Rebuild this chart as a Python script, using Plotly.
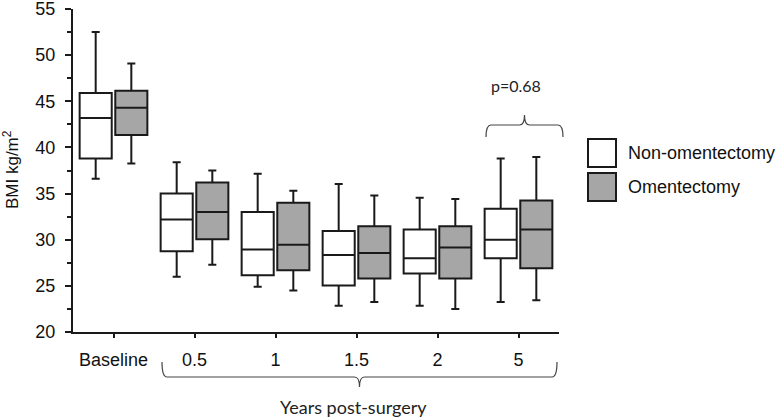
import plotly.graph_objects as go

categories = ["Baseline", "0.5", "1", "1.5", "2", "5"]

non_lower = [36.6, 26.0, 24.9, 22.85, 22.85, 23.25]
non_q1 = [38.8, 28.75, 26.15, 25.05, 26.35, 28.0]
non_median = [43.2, 32.2, 28.95, 28.35, 28.0, 30.0]
non_q3 = [45.9, 35.0, 33.0, 30.95, 31.1, 33.35]
non_upper = [52.5, 38.4, 37.15, 36.05, 34.55, 38.8]

om_lower = [38.25, 27.3, 24.5, 23.25, 22.5, 23.45]
om_q1 = [41.35, 30.05, 26.7, 25.8, 25.8, 26.9]
om_median = [44.3, 33.0, 29.45, 28.55, 29.15, 31.1]
om_q3 = [46.15, 36.2, 34.0, 31.45, 31.45, 34.25]
om_upper = [49.1, 37.5, 35.3, 34.8, 34.4, 38.95]

series_names = ["Non-omentectomy", "Omentectomy"]
y_ticks = [20, 25, 30, 35, 40, 45, 50, 55]

LINE = "#1a1a1a"
GRAY = "#a6a6a6"
ARIAL = "Liberation Sans, Arial, sans-serif"
CAL = "Lato, Carlito, sans-serif"

W, H = 780, 418
L, T = 73, 9
B = 418 - 332
R = 780 - 559
PW, PH = W - L - R, H - T - B


def px(x):
    return (x - L) / PW


def py(y):
    return (H - B - y) / PH


fig = go.Figure()
fig.add_trace(go.Box(
    x=categories, q1=non_q1, median=non_median, q3=non_q3,
    lowerfence=non_lower, upperfence=non_upper,
    name=series_names[0], fillcolor="white",
    line=dict(color=LINE, width=2), whiskerwidth=0.25, boxpoints=False,
    showlegend=False,
))
fig.add_trace(go.Box(
    x=categories, q1=om_q1, median=om_median, q3=om_q3,
    lowerfence=om_lower, upperfence=om_upper,
    name=series_names[1], fillcolor=GRAY,
    line=dict(color=LINE, width=2), whiskerwidth=0.25, boxpoints=False,
    showlegend=False,
))


def brace_path(x0, x1, yline, yend, ytip):
    xm = (x0 + x1) / 2
    r = 5
    pts = [
        f"M {px(x0)},{py(yend)}",
        f"Q {px(x0)},{py(yline)} {px(x0 + r)},{py(yline)}",
        f"L {px(xm - r)},{py(yline)}",
        f"Q {px(xm)},{py(yline)} {px(xm)},{py(ytip)}",
        f"Q {px(xm)},{py(yline)} {px(xm + r)},{py(yline)}",
        f"L {px(x1 - r)},{py(yline)}",
        f"Q {px(x1)},{py(yline)} {px(x1)},{py(yend)}",
    ]
    return " ".join(pts)


shapes = [
    dict(type="path", xref="paper", yref="paper",
         path=brace_path(486, 563, 125, 137, 115),
         line=dict(color="#444", width=1.2)),
    dict(type="path", xref="paper", yref="paper",
         path=brace_path(162, 557, 377, 362, 387),
         line=dict(color="#444", width=1.2)),
    # legend swatches
    dict(type="rect", xref="paper", yref="paper",
         x0=px(588), x1=px(616), y0=py(167), y1=py(139),
         fillcolor="white", line=dict(color=LINE, width=2)),
    dict(type="rect", xref="paper", yref="paper",
         x0=px(588), x1=px(616), y0=py(201), y1=py(173),
         fillcolor=GRAY, line=dict(color=LINE, width=2)),
]

annotations = [
    dict(text=series_names[0], x=px(626), y=py(153), xref="paper", yref="paper",
         xanchor="left", yanchor="middle", showarrow=False,
         font=dict(family=ARIAL, size=18, color="#111")),
    dict(text=series_names[1], x=px(626), y=py(187), xref="paper", yref="paper",
         xanchor="left", yanchor="middle", showarrow=False,
         font=dict(family=ARIAL, size=18, color="#111")),
    dict(text="p=0.68", x=px(516), y=py(86), xref="paper", yref="paper",
         xanchor="center", yanchor="middle", showarrow=False,
         font=dict(family=CAL, size=16, color="#222")),
    dict(text="Years post-surgery", x=px(353), y=py(407), xref="paper", yref="paper",
         xanchor="center", yanchor="middle", showarrow=False,
         font=dict(family=CAL, size=18, color="#222")),
    dict(text="BMI kg/m<sup>2</sup>", x=px(11), y=py(170), xref="paper", yref="paper",
         xanchor="center", yanchor="middle", textangle=-90, showarrow=False,
         font=dict(family=ARIAL, size=17, color="#111")),
]

fig.update_layout(
    width=W, height=H,
    margin=dict(l=L, r=R, t=T, b=B, autoexpand=False),
    paper_bgcolor="white", plot_bgcolor="white",
    boxmode="group", boxgap=0.12, boxgroupgap=0.1,
    shapes=shapes, annotations=annotations,
    showlegend=False,
)
fig.update_xaxes(
    type="category", range=[-0.5, 5.5], automargin=False,
    showline=True, linecolor=LINE, linewidth=2,
    ticks="outside", ticklen=4, tickwidth=1.5, tickcolor=LINE,
    tickfont=dict(family=ARIAL, size=18, color="#111"),
    ticklabelstandoff=6,
    showgrid=False, zeroline=False,
)
fig.update_yaxes(
    range=[20, 55], tickvals=y_ticks, automargin=False,
    showline=True, linecolor=LINE, linewidth=2,
    ticks="outside", ticklen=6, tickwidth=1.5, tickcolor=LINE,
    minor=dict(dtick=2.5, ticks="outside", ticklen=4, tickwidth=1.5, tickcolor=LINE),
    tickfont=dict(family=ARIAL, size=18, color="#111"),
    ticklabelstandoff=6, ticklabeloverflow="allow",
    showgrid=False, zeroline=False,
)

fig.write_html("out.html", config={"displayModeBar": False},
               post_script="document.body.style.margin='0';")
